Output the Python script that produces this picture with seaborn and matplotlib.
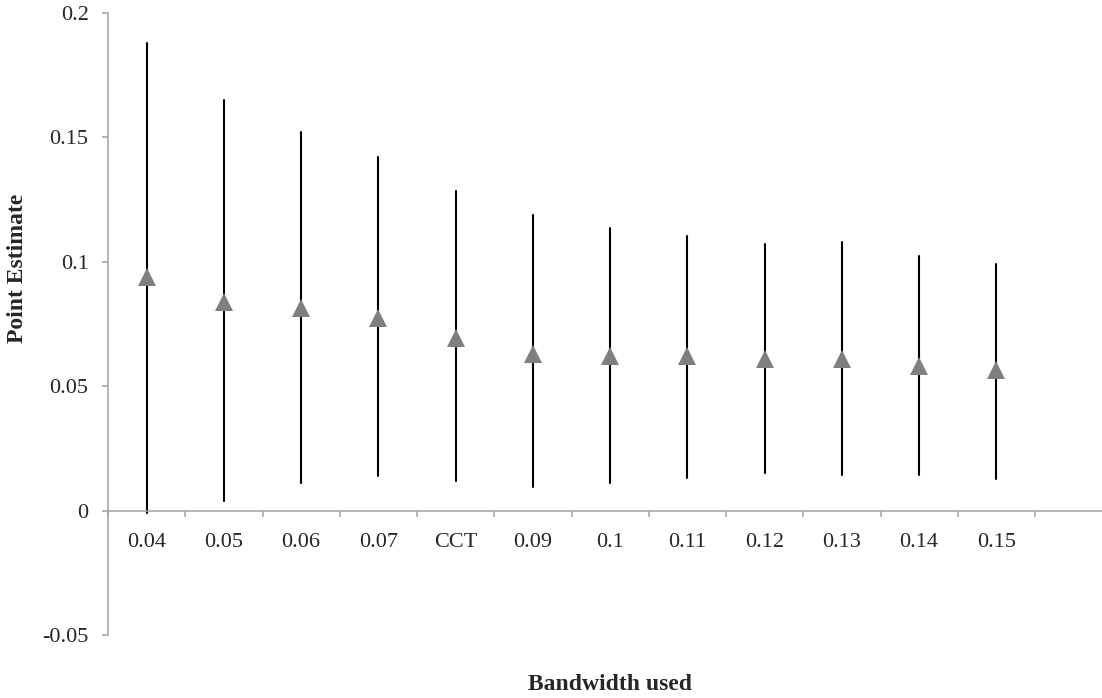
import matplotlib
matplotlib.use("Agg")
import matplotlib.pyplot as plt
import seaborn as sns
import pandas as pd
import numpy as np
from matplotlib.ticker import FixedLocator

bandwidths = ["0.04", "0.05", "0.06", "0.07", "CCT", "0.09", "0.1", "0.11", "0.12", "0.13", "0.14", "0.15"]
estimates = [0.094, 0.084, 0.0815, 0.0775, 0.0695, 0.063, 0.062, 0.062, 0.061, 0.061, 0.058, 0.0565]
ci_low = [-0.001, 0.0037, 0.011, 0.014, 0.0118, 0.0094, 0.011, 0.0133, 0.015, 0.0143, 0.0143, 0.0127]
ci_high = [0.188, 0.165, 0.152, 0.142, 0.1285, 0.119, 0.1137, 0.1105, 0.107, 0.108, 0.1025, 0.099]
y_ticks = [-0.05, 0, 0.05, 0.1, 0.15, 0.2]
y_tick_labels = ["-0.05", "0", "0.05", "0.1", "0.15", "0.2"]

rows = []
for b, lo, est, hi in zip(bandwidths, ci_low, estimates, ci_high):
    for v in (lo, est, hi):
        rows.append({"bandwidth": b, "value": v})
df = pd.DataFrame(rows)

sns.set_style("white")
plt.rcParams["font.family"] = ["Liberation Serif", "DejaVu Serif"]

W, H = 1102, 698
fig = plt.figure(figsize=(W / 100, H / 100), dpi=100)
ax = fig.add_axes([108 / W, 1 - 635 / H, 994 / W, 622 / H])

sns.pointplot(
    data=df, x="bandwidth", y="value", order=bandwidths,
    estimator="median", errorbar=lambda v: (v.min(), v.max()),
    linestyle="none", marker="^", markersize=13, markeredgewidth=0,
    color="#7f7f7f",
    err_kws={"color": "black", "linewidth": 1.5, "zorder": 1},
    ax=ax,
)

axis_gray = "#a0a0a0"
ax.set_xlim(-0.5, -0.5 + 994 / 77.25)
ax.set_ylim(-0.05, 0.2)

for s in ("top", "right"):
    ax.spines[s].set_visible(False)
for s in ("left", "bottom"):
    ax.spines[s].set_color(axis_gray)
    ax.spines[s].set_linewidth(1.1)
ax.spines["bottom"].set_position(("data", 0))

ax.set_xticks(range(len(bandwidths)))
ax.set_xticklabels(bandwidths, fontsize=16)
ax.tick_params(axis="x", which="major", bottom=True, length=0, pad=16)
ax.xaxis.set_minor_locator(FixedLocator(np.arange(-0.5, len(bandwidths) + 1.5, 1)))
ax.tick_params(axis="x", which="minor", bottom=True, length=4, width=1.1,
               color=axis_gray, direction="out")

ax.set_yticks(y_ticks)
ax.set_yticklabels(y_tick_labels, fontsize=16)
ax.tick_params(axis="y", which="major", left=True, length=4, width=1.1,
               color=axis_gray, direction="out", pad=10)

ax.set_xlabel("Bandwidth used", fontsize=17, fontweight="bold")
ax.set_ylabel("Point Estimate", fontsize=17, fontweight="bold")
ax.xaxis.label.set_va("center")
ax.yaxis.label.set_va("center")
ax.xaxis.set_label_coords((610 - 108) / 994, (635 - 685) / 622)
ax.yaxis.set_label_coords((18 - 108) / 994, (635 - 268) / 622)

fig.savefig("out.png", dpi=100)
